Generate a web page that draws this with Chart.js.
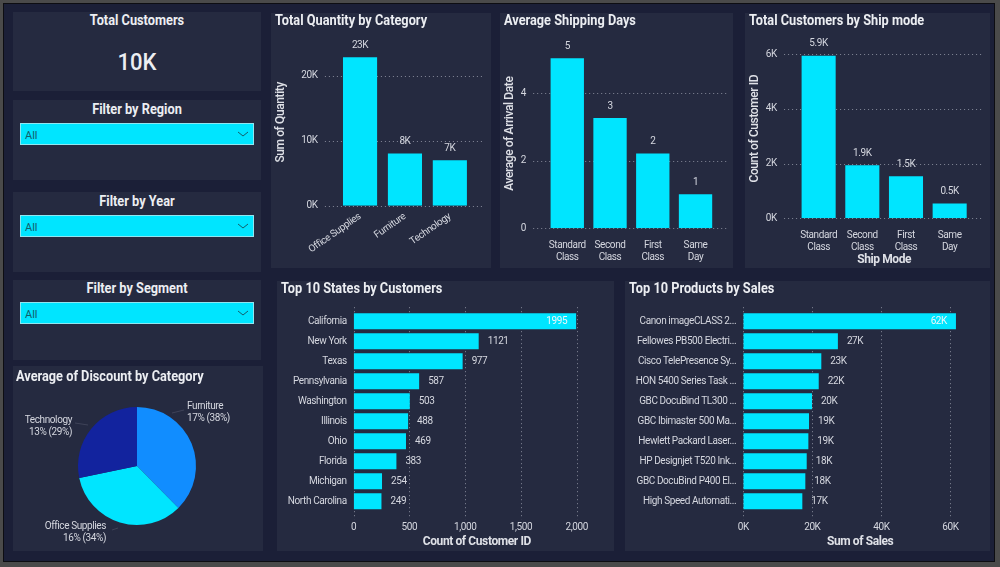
<!DOCTYPE html>
<html lang="en">
<head>
<meta charset="UTF-8">
<title>Superstore Dashboard</title>
<script src="https://cdn.jsdelivr.net/npm/chart.js"></script>
<style>
    html, body { margin: 0; padding: 0; width: 1000px; height: 567px; overflow: hidden; background: #1b1f37; }
    body { font-family: Roboto, sans-serif; color: #eceef2; position: relative; }
    #frame { position: absolute; left: 0; top: 0; right: 0; bottom: 0; box-sizing: border-box; border-style: solid; border-width: 3px 5px 5px 3px; border-color: #4a4a4a; box-shadow: inset 0 0 0 1px #0d0d12; z-index: 5; pointer-events: none; }
    .panel { position: absolute; background: #252a40; }
    .panel canvas { position: absolute; left: 0; top: 0; }
    .title { position: absolute; font-weight: 700; font-size: 14.5px; line-height: 16px; white-space: nowrap; color: #eceef2; transform: scaleX(0.88); transform-origin: left center; }
    .center { left: 0; right: 0; text-align: center; transform-origin: center center; }
    .big { position: absolute; left: 0; right: 0; top: 34px; text-align: center; font-size: 24px; line-height: 32px; font-weight: 500; transform: scaleX(0.92); }
    .slicer { position: absolute; left: 7px; width: 232px; height: 20px; background: #00e5ff; border: 1px solid #8fe6f0; color: #135e6b; font-size: 11px; line-height: 24px; text-indent: 4px; }
    .slicer svg { position: absolute; right: 4px; top: 7px; }
</style>
</head>
<body>
<div id="frame"></div>

<div class="panel" style="left:13px;top:12px;width:248px;height:79px">
    <div class="title center" style="top:1px">Total Customers</div>
    <div class="big">10K</div>
</div>
<div class="panel" style="left:13px;top:100px;width:248px;height:80px">
    <div class="title center" style="top:2px">Filter by Region</div>
    <div class="slicer" style="top:23px">All<svg width="12" height="7"><polyline points="1,1 6,5 11,1" fill="none" stroke="#135e6b" stroke-width="1"/></svg></div>
</div>
<div class="panel" style="left:13px;top:192px;width:248px;height:80px">
    <div class="title center" style="top:2px">Filter by Year</div>
    <div class="slicer" style="top:23px">All<svg width="12" height="7"><polyline points="1,1 6,5 11,1" fill="none" stroke="#135e6b" stroke-width="1"/></svg></div>
</div>
<div class="panel" style="left:13px;top:280px;width:248px;height:80px">
    <div class="title center" style="top:1px">Filter by Segment</div>
    <div class="slicer" style="top:22px">All<svg width="12" height="7"><polyline points="1,1 6,5 11,1" fill="none" stroke="#135e6b" stroke-width="1"/></svg></div>
</div>

<div class="panel" style="left:13px;top:366px;width:250px;height:185px">
    <canvas id="discountChart" width="250" height="185"></canvas>
    <div class="title" style="left:3px;top:3px">Average of Discount by Category</div>
</div>
<div class="panel" style="left:271px;top:13px;width:220px;height:255px">
    <canvas id="quantityChart" width="220" height="255"></canvas>
    <div class="title" style="left:4px;top:0px">Total Quantity by Category</div>
</div>
<div class="panel" style="left:500px;top:13px;width:233px;height:255px">
    <canvas id="shippingChart" width="233" height="255"></canvas>
    <div class="title" style="left:4px;top:0px">Average Shipping Days</div>
</div>
<div class="panel" style="left:745px;top:13px;width:245px;height:255px">
    <canvas id="shipModeChart" width="245" height="255"></canvas>
    <div class="title" style="left:4px;top:0px">Total Customers by Ship mode</div>
</div>
<div class="panel" style="left:277px;top:281px;width:337px;height:270px">
    <canvas id="statesChart" width="337" height="270"></canvas>
    <div class="title" style="left:4px;top:0px">Top 10 States by Customers</div>
</div>
<div class="panel" style="left:625px;top:281px;width:365px;height:270px">
    <canvas id="productsChart" width="365" height="270"></canvas>
    <div class="title" style="left:4px;top:0px">Top 10 Products by Sales</div>
</div>

<script>
    const quantityCategories = ['Office Supplies', 'Furniture', 'Technology'];
    const quantityValues = [22900, 8050, 7000];
    const quantityTicks = [0, 10000, 20000];

    const shipClasses = [['Standard', 'Class'], ['Second', 'Class'], ['First', 'Class'], ['Same', 'Day']];
    const shippingDays = [5.03, 3.26, 2.21, 1.01];
    const shippingTicks = [0, 2, 4];
    const shipModeCustomers = [5940, 1940, 1540, 545];
    const shipModeTicks = [0, 2000, 4000, 6000];

    const stateNames = ['California', 'New York', 'Texas', 'Pennsylvania', 'Washington', 'Illinois', 'Ohio', 'Florida', 'Michigan', 'North Carolina'];
    const stateCustomers = [1995, 1121, 977, 587, 503, 488, 469, 383, 254, 249];
    const stateTicks = [0, 500, 1000, 1500, 2000];

    const productNames = ['Canon imageCLASS 2...', 'Fellowes PB500 Electri...', 'Cisco TelePresence Sy...', 'HON 5400 Series Task ...', 'GBC DocuBind TL300 ...', 'GBC Ibimaster 500 Ma...', 'Hewlett Packard Laser...', 'HP Designjet T520 Ink...', 'GBC DocuBind P400 El...', 'High Speed Automati...'];
    const productSales = [61600, 27400, 22600, 21850, 19900, 19040, 18850, 18370, 17970, 17100];
    const productTicks = [0, 20000, 40000, 60000];

    const discountCategories = ['Furniture', 'Office Supplies', 'Technology'];
    const discountValues = [17.3, 15.7, 13.0];
    const discountLabels = ['17% (38%)', '16% (34%)', '13% (29%)'];

    const FONT = 'Roboto, sans-serif';
    const TICK_COLOR = '#d5d7df';
    const CYAN = '#00e5ff';
    const tickFont = {family: FONT, size: 10};
    const axisTitleFont = {family: FONT, size: 12, weight: '700'};

    Chart.defaults.animation = false;
    Chart.defaults.responsive = false;
    Chart.defaults.plugins.legend.display = false;
    Chart.defaults.plugins.tooltip.enabled = false;

    // the report font is narrower than Roboto. Has to be set late, a canvas resize resets the context
    Chart.register({
        id: 'narrowText',
        beforeDraw(chart) {
            chart.ctx.letterSpacing = '-0.4px';
        }
    });

    function useTicks(values) {
        return scale => {
            scale.ticks = values.map(v => ({value: v}));
        };
    }

    // dotted grid, it runs a bit past the plot area like the Power BI one
    const dottedGrid = {
        id: 'dottedGrid',
        beforeDatasetsDraw(chart, args, opts) {
            const ctx = chart.ctx;
            const area = chart.chartArea;
            const scale = chart.scales[opts.axis];
            ctx.save();
            ctx.strokeStyle = '#858999';
            ctx.lineWidth = 1;
            ctx.setLineDash([1, 3]);
            scale.ticks.forEach(t => {
                const p = Math.round(scale.getPixelForValue(t.value)) + 0.5;
                ctx.beginPath();
                if (opts.axis === 'y') {
                    ctx.moveTo(area.left - opts.before, p);
                    ctx.lineTo(area.right + opts.after, p);
                } else {
                    ctx.moveTo(p, area.top - opts.before);
                    ctx.lineTo(p, area.bottom + opts.after);
                }
                ctx.stroke();
            });
            ctx.restore();
        }
    };

    // data labels, Chart.js has none built in
    const barLabels = {
        id: 'barLabels',
        afterDatasetsDraw(chart, args, opts) {
            const ctx = chart.ctx;
            const values = chart.data.datasets[0].data;
            ctx.save();
            ctx.font = '10px ' + FONT;
            ctx.fillStyle = TICK_COLOR;
            ctx.textBaseline = 'middle';
            chart.getDatasetMeta(0).data.forEach((bar, i) => {
                const text = opts.format(values[i]);
                if (chart.options.indexAxis === 'y') {
                    const w = ctx.measureText(text).width;
                    if (bar.x + 9 + w > chart.chartArea.right) {
                        ctx.textAlign = 'right';
                        ctx.fillStyle = '#eef6f8';
                        ctx.fillText(text, bar.x - 9, bar.y + 0.5);
                        ctx.fillStyle = TICK_COLOR;
                    } else {
                        ctx.textAlign = 'left';
                        ctx.fillText(text, bar.x + 9, bar.y + 0.5);
                    }
                } else {
                    ctx.textAlign = 'center';
                    ctx.fillText(text, bar.x, bar.y - 12);
                }
            });
            ctx.restore();
        }
    };

    // callout labels of the pie
    const pieLabels = {
        id: 'pieLabels',
        afterDatasetsDraw(chart, args, opts) {
            const ctx = chart.ctx;
            const arc = chart.getDatasetMeta(0).data[0];
            ctx.save();
            ctx.font = '10px ' + FONT;
            ctx.textBaseline = 'middle';
            opts.callouts.forEach((c, i) => {
                ctx.strokeStyle = '#3f4358';
                ctx.beginPath();
                ctx.moveTo(arc.x + c.line[0], arc.y + c.line[1]);
                ctx.lineTo(arc.x + c.line[2], arc.y + c.line[3]);
                ctx.stroke();
                ctx.fillStyle = TICK_COLOR;
                ctx.textAlign = c.align;
                ctx.fillText(discountCategories[i], arc.x + c.x, arc.y + c.y);
                ctx.fillText(discountLabels[i], arc.x + c.x, arc.y + c.y + 12);
            });
            ctx.restore();
        }
    };

    function kLabel(v) {
        return v / 1000 + 'K';
    }

    function columnChart(id, labels, values, cfg) {
        return new Chart(document.getElementById(id), {
            type: 'bar',
            data: {labels: labels, datasets: [{data: values, backgroundColor: CYAN, barPercentage: cfg.barPct, categoryPercentage: 1}]},
            options: {
                layout: {autoPadding: false, padding: {left: 0, top: cfg.top, right: cfg.right, bottom: 0}},
                scales: {
                    x: {
                        grid: {display: false, drawTicks: false},
                        border: {display: false},
                        title: cfg.xTitle ? {display: true, text: cfg.xTitle, color: '#dfe1e7', font: axisTitleFont, padding: {top: 0, bottom: 0.5}} : {display: false},
                        ticks: {color: TICK_COLOR, font: tickFont, padding: cfg.xPad, autoSkip: false, minRotation: cfg.rotate, maxRotation: cfg.rotate},
                        afterFit: s => { s.height = cfg.xHeight; }
                    },
                    y: {
                        min: 0,
                        max: cfg.max,
                        grid: {display: false, drawTicks: false},
                        border: {display: false},
                        title: {display: true, text: cfg.yTitle, color: '#dfe1e7', font: {family: FONT, size: 12, weight: '500'}, padding: {top: 3, bottom: 0}},
                        afterBuildTicks: useTicks(cfg.ticks),
                        ticks: {color: TICK_COLOR, font: tickFont, padding: 20, callback: cfg.yTick},
                        afterFit: s => { s.width = cfg.yWidth; }
                    }
                },
                plugins: {
                    dottedGrid: {axis: 'y', before: 12.7, after: 12},
                    barLabels: {format: cfg.format}
                }
            },
            plugins: [dottedGrid, barLabels]
        });
    }

    function hbarChart(id, labels, values, cfg) {
        return new Chart(document.getElementById(id), {
            type: 'bar',
            data: {labels: labels, datasets: [{data: values, backgroundColor: CYAN, barPercentage: 0.8, categoryPercentage: 1}]},
            options: {
                indexAxis: 'y',
                layout: {autoPadding: false, padding: {left: 0, top: 30.2, right: cfg.right, bottom: 0}},
                scales: {
                    x: {
                        min: 0,
                        max: cfg.max,
                        grid: {display: false, drawTicks: false},
                        border: {display: false},
                        title: {display: true, text: cfg.xTitle, color: '#dfe1e7', font: axisTitleFont, padding: {top: 0, bottom: 1.5}},
                        afterBuildTicks: useTicks(cfg.ticks),
                        ticks: {color: TICK_COLOR, font: tickFont, padding: 9.7, maxRotation: 0, callback: cfg.xTick},
                        afterFit: s => { s.height = 39.7; }
                    },
                    y: {
                        grid: {display: false, drawTicks: false},
                        border: {display: false},
                        ticks: {color: TICK_COLOR, font: tickFont, padding: 7, autoSkip: false},
                        afterFit: s => { s.width = cfg.yWidth; }
                    }
                },
                plugins: {
                    dottedGrid: {axis: 'x', before: 4, after: 8},
                    barLabels: {format: cfg.format}
                }
            },
            plugins: [dottedGrid, barLabels]
        });
    }

    columnChart('quantityChart', quantityCategories, quantityValues, {
        barPct: 0.76, top: 24.7, right: 18.7, yWidth: 66.6, xHeight: 62.3, max: 25700, ticks: quantityTicks, xPad: 5, rotate: 35,
        yTitle: 'Sum of Quantity', yTick: kLabel, format: v => Math.round(v / 1000) + 'K'
    });
    columnChart('shippingChart', shipClasses, shippingDays, {
        barPct: 0.78, top: 25.3, right: 16.1, yWidth: 45.9, xHeight: 39.7, max: 5.6, ticks: shippingTicks, xPad: 10.7, rotate: 0,
        yTitle: 'Average of Arrival Date', yTick: v => v, format: v => Math.round(v)
    });
    columnChart('shipModeChart', shipClasses, shipModeCustomers, {
        barPct: 0.78, top: 25.3, right: 18.5, yWidth: 51.8, xHeight: 49.7, max: 6550, ticks: shipModeTicks, xPad: 10.7, rotate: 0,
        yTitle: 'Count of Customer ID', xTitle: 'Ship Mode', yTick: kLabel, format: v => (v / 1000).toFixed(1) + 'K'
    });
    hbarChart('statesChart', stateNames, stateCustomers, {
        right: 14, yWidth: 76.7, max: 2209, ticks: stateTicks, xTitle: 'Count of Customer ID',
        xTick: v => v.toLocaleString('en-US'), format: v => v
    });
    hbarChart('productsChart', productNames, productSales, {
        right: 13, yWidth: 118.3, max: 67700, ticks: productTicks, xTitle: 'Sum of Sales',
        xTick: kLabel, format: v => Math.round(v / 1000) + 'K'
    });

    new Chart(document.getElementById('discountChart'), {
        type: 'pie',
        data: {labels: discountCategories, datasets: [{data: discountValues, backgroundColor: ['#118dff', CYAN, '#12239e'], borderWidth: 0, radius: 59}]},
        options: {
            layout: {padding: {left: 0, right: 2, top: 15, bottom: 0}},
            plugins: {
                pieLabels: {
                    callouts: [
                        {x: 50, y: -60, align: 'left', line: [35, -53, 47, -56]},
                        {x: -31, y: 60, align: 'right', line: [-19, 62, -25, 64]},
                        {x: -65, y: -46, align: 'right', line: [-49, -41, -62, -43]}
                    ]
                }
            }
        },
        plugins: [pieLabels]
    });
</script>
</body>
</html>
